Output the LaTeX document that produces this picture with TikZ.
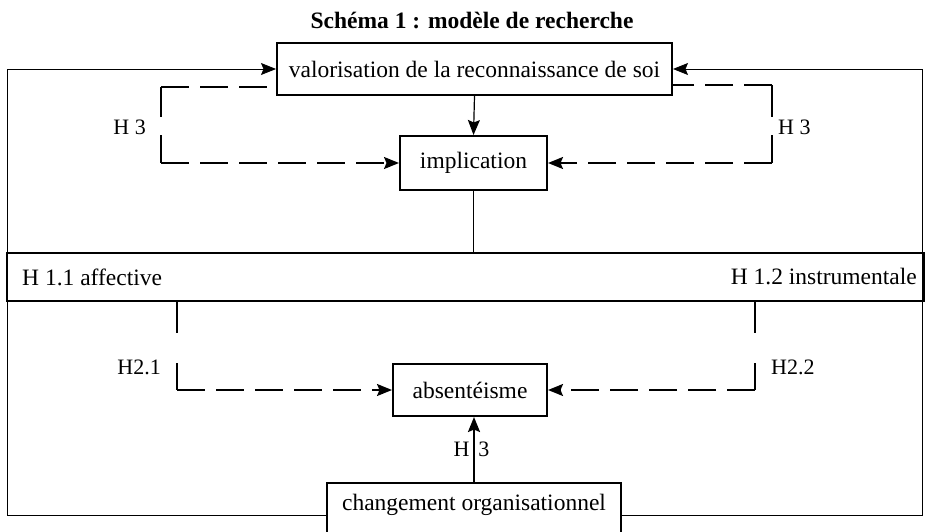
\documentclass[tikz,border=0pt]{standalone}
\usepackage{fontspec}
\setmainfont{Liberation Serif}
\usetikzlibrary{arrows.meta}
\begin{document}
\begin{tikzpicture}[x=1pt,y=-1pt,
  every node/.style={font=\fontsize{23.5}{28}\selectfont},
  box/.style={draw, line width=2pt, inner sep=0pt},
  lbl/.style={inner sep=0pt, font=\fontsize{22}{26}\selectfont},
  frame/.style={line width=0.9pt},
  hyp/.style={line width=1.8pt},
  dsh/.style={hyp, dash pattern=on 28pt off 11pt},
  tip/.style={-{Stealth[length=15pt,width=12pt,inset=2.5pt]}}
]
\useasboundingbox (0,0) rectangle (925,532);
\clip (0,0) rectangle (925,532);
\fill[white] (0,0) rectangle (925,532);
\node[font=\bfseries\fontsize{23.5}{28}\selectfont] (title) at (472,21) {Schéma 1 : modèle de recherche};

\node[box, minimum width=395pt, minimum height=52pt] (val) at (474.5,69) {valorisation de la reconnaissance de soi};
\node[box, minimum width=147pt, minimum height=54pt] (impl) at (473.5,163) {implication};
\node[box, line width=1.6pt, minimum width=917pt, minimum height=48pt] (bar) at (465.5,277) {};
\node[inner sep=0pt, anchor=west] (aff) at (22,277) {H 1.1 affective};
\node[inner sep=0pt, anchor=east] (ins) at (917,277) {H 1.2 instrumentale};
\node[box, minimum width=154pt, minimum height=52pt] (abs) at (470,390) {absentéisme};
\node[minimum width=293pt, minimum height=44pt, inner sep=0pt] (chg) at (474,505) {changement organisationnel};
\draw[line width=2pt] ([yshift=-40pt]chg.south west) -- (chg.north west) -- (chg.north east) -- ([yshift=-40pt]chg.south east);

% outer frame
\coordinate (fbl) at (7,515);
\coordinate (ftl) at (7,69);
\coordinate (fbr) at (922,515);
\coordinate (ftr) at (922,69);
\draw[frame, tip] (chg.west |- fbl) -- (fbl) -- (ftl) -- (val.west);
\draw[frame, tip] (chg.east |- fbr) -- (fbr) -- (ftr) -- (val.east);

% vertical links
\draw[line width=1.2pt, tip] (val.south) -- (impl.north);
\draw[line width=1pt] (impl.south) -- (impl.south |- bar.north);

% H3 left
\coordinate (h3lt) at (161,87);
\coordinate (h3lg1) at (161,117);
\coordinate (h3lg2) at (161,135);
\coordinate (h3lb) at (161,163);
\draw[dsh] (h3lt) -- (val.west |- h3lt);
\draw[hyp] (h3lt) -- (h3lg1);
\draw[hyp] (h3lg2) -- (h3lb);
\draw[dsh, tip] (h3lb) -- (impl.west);
\node[lbl, anchor=east] (h3l) at (146,127) {H 3};

% H3 right
\coordinate (h3rt) at (772,85);
\coordinate (h3rg1) at (772,117);
\coordinate (h3rg2) at (772,135);
\coordinate (h3rb) at (772,163);
\draw[dsh] (h3rt) -- (val.east |- h3rt);
\draw[hyp] (h3rt) -- (h3rg1);
\draw[hyp] (h3rg2) -- (h3rb);
\draw[dsh, tip] (h3rb) -- (impl.east);
\node[lbl, anchor=west] (h3r) at (778,127) {H 3};

% H2.1
\coordinate (h21a) at (177,333);
\coordinate (h21b) at (177,363);
\coordinate (h21c) at (177,390);
\draw[line width=1.5pt] (bar.south -| h21a) -- (h21a);
\draw[line width=1.5pt] (h21b) -- (h21c);
\draw[dsh, tip] (h21c) -- (abs.west);
\node[lbl, anchor=east] (h21) at (161,367) {H2.1};

% H2.2
\coordinate (h22a) at (755,333);
\coordinate (h22b) at (755,363);
\coordinate (h22c) at (755,390);
\draw[line width=1.5pt] (bar.south -| h22a) -- (h22a);
\draw[line width=1.5pt] (h22b) -- (h22c);
\draw[dsh, tip] (h22c) -- (abs.east);
\node[lbl, anchor=west] (h22) at (771,367) {H2.2};

% H3 bottom
\node[lbl] (h3m) at (471.5,449) {H\hspace{9pt}3};
\draw[line width=2.2pt, tip] (chg.north) -- (chg.north |- abs.south);
\end{tikzpicture}
\end{document}
